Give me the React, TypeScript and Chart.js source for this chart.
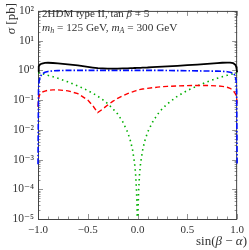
import React, { useEffect, useRef } from "react";
import { Chart, registerables } from "chart.js";

Chart.register(...registerables);

const xValues = [
  -1, -0.995, -0.99, -0.98, -0.96, -0.93, -0.9, -0.85, -0.8, -0.7,
  -0.6, -0.5, -0.45, -0.4, -0.35, -0.3, -0.25, -0.2, -0.15, -0.1,
  -0.07, -0.05, -0.03, -0.02, -0.01, -0.005,
  0,
  0.005, 0.01, 0.02, 0.03, 0.05, 0.07, 0.1,
  0.15, 0.2, 0.25, 0.3, 0.4, 0.5, 0.6, 0.7, 0.8,
  0.85, 0.9, 0.93, 0.96, 0.98, 0.99, 0.995, 1,
];

const totalSigma = [
  0.9, 1.13, 1.35, 1.57, 1.7, 1.79, 1.8, 1.77, 1.73, 1.6,
  1.47, 1.31, 1.24, 1.18, 1.16, 1.15, 1.15, 1.15, 1.16, 1.17,
  1.18, 1.19, 1.2, 1.2, 1.21, 1.21,
  1.21,
  1.21, 1.21, 1.22, 1.22, 1.23, 1.24, 1.25,
  1.28, 1.3, 1.33, 1.36, 1.42, 1.49, 1.57, 1.66, 1.75,
  1.8, 1.83, 1.82, 1.74, 1.56, 1.34, 1.1, 0.86,
];

const blueSigma = [
  0.0007, 0.2, 0.4, 0.6, 0.75, 0.86, 0.92, 0.96, 0.98, 1.0,
  1.0, 1.0, 1.0, 1.0, 1.0, 1.0, 1.0, 1.0, 1.0, 1.0,
  1.0, 1.0, 1.0, 1.0, 1.0, 1.0,
  1.0,
  1.0, 1.0, 1.0, 1.0, 1.0, 1.0, 1.0,
  1.0, 1.0, 1.0, 0.99, 0.98, 0.97, 0.96, 0.95, 0.94,
  0.93, 0.9, 0.87, 0.8, 0.66, 0.45, 0.2, 0.0007,
];

const redSigma = [
  0.06, 0.1, 0.13, 0.16, 0.185, 0.2, 0.215, 0.22, 0.22, 0.205,
  0.165, 0.1, 0.065, 0.038, 0.05, 0.068, 0.09, 0.115, 0.14, 0.165,
  0.18, 0.19, 0.2, 0.205, 0.21, 0.215,
  0.218,
  0.22, 0.222, 0.226, 0.23, 0.235, 0.24, 0.248,
  0.26, 0.272, 0.282, 0.29, 0.3, 0.307, 0.31, 0.31, 0.3,
  0.29, 0.27, 0.25, 0.21, 0.17, 0.14, 0.11, 0.07,
];

const greenSigma = [
  0.84, 0.83, 0.82, 0.81, 0.77, 0.73, 0.68, 0.61, 0.54, 0.41,
  0.3, 0.21, 0.17, 0.135, 0.103, 0.076, 0.052, 0.034, 0.019, 0.0084,
  0.0041, 0.0021, 0.00076, 0.00034, 0.000084, 0.000021,
  0.000002,
  0.00002, 0.00008, 0.00033, 0.00074, 0.002, 0.004, 0.0082,
  0.018, 0.033, 0.052, 0.075, 0.135, 0.21, 0.3, 0.41, 0.54,
  0.61, 0.68, 0.72, 0.76, 0.78, 0.78, 0.78, 0.78,
];

const xTickValues = [-1, -0.5, 0, 0.5, 1];
const xTickLabels = ["\u22121.0", "\u22120.5", "0.0", "0.5", "1.0"];
const yTickValues = [1e-5, 1e-4, 1e-3, 1e-2, 1e-1, 1e0, 1e1, 1e2];
const yTickLabels = ["10\u207B\u2075", "10\u207B\u2074", "10\u207B\u00B3", "10\u207B\u00B2", "10\u207B\u00B9", "10\u2070", "10\u00B9", "10\u00B2"];

const SERIF = '"Liberation Serif", "DejaVu Serif", serif';

type Seg = { t: string; italic?: boolean; sub?: boolean };

function segFont(s: Seg, size: number) {
  const sz = s.sub ? size * 0.7 : size;
  return `${s.italic ? "italic " : ""}${sz}px ${SERIF}`;
}

function richWidth(ctx: CanvasRenderingContext2D, segs: Seg[], size: number) {
  let w = 0;
  for (const s of segs) {
    ctx.font = segFont(s, size);
    w += ctx.measureText(s.t).width;
  }
  return w;
}

function drawRich(ctx: CanvasRenderingContext2D, x: number, y: number, segs: Seg[], size: number) {
  let cx = x;
  ctx.textAlign = "left";
  ctx.textBaseline = "alphabetic";
  for (const s of segs) {
    ctx.font = segFont(s, size);
    ctx.fillText(s.t, cx, s.sub ? y + size * 0.22 : y);
    cx += ctx.measureText(s.t).width;
  }
}

const framePlugin = {
  id: "framePlugin",
  beforeDatasetsDraw(chart: any) {
    const ctx: CanvasRenderingContext2D = chart.ctx;
    const { left, right, top, bottom } = chart.chartArea;
    const xs = chart.scales.x;
    const ys = chart.scales.y;
    ctx.save();
    ctx.strokeStyle = "#777";
    ctx.lineWidth = 0.8;
    ctx.beginPath();
    for (let d = -5; d <= 2; d++) {
      for (let k = 1; k <= 9; k++) {
        const v = k * Math.pow(10, d);
        if (v > 100.0001) continue;
        const py = Math.round(ys.getPixelForValue(v)) + 0.5;
        const len = k === 1 ? 5 : 2.5;
        ctx.moveTo(left, py);
        ctx.lineTo(left + len, py);
        ctx.moveTo(right, py);
        ctx.lineTo(right - len, py);
      }
    }
    for (let i = -10; i <= 10; i++) {
      const v = i / 10;
      const px = Math.round(xs.getPixelForValue(v)) + 0.5;
      const len = i % 5 === 0 ? 5 : 2.5;
      ctx.moveTo(px, bottom);
      ctx.lineTo(px, bottom - len);
      ctx.moveTo(px, top);
      ctx.lineTo(px, top + len);
    }
    ctx.stroke();
    ctx.strokeStyle = "#444";
    ctx.lineWidth = 1;
    ctx.strokeRect(left + 0.5, top + 0.5, right - left - 1, bottom - top);

    ctx.fillStyle = "#333";
    drawRich(ctx, left + 4, 17, [
      { t: "2HDM type II, tan " },
      { t: "\u03B2", italic: true },
      { t: " = 5" },
    ], 11);
    drawRich(ctx, left + 4, 31, [
      { t: "m", italic: true },
      { t: "h", italic: true, sub: true },
      { t: " = 125 GeV, " },
      { t: "m", italic: true },
      { t: "A", italic: true, sub: true },
      { t: " = 300 GeV" },
    ], 11.3);

    const xt: Seg[] = [
      { t: "sin(" },
      { t: "\u03B2", italic: true },
      { t: " \u2212 " },
      { t: "\u03B1", italic: true },
      { t: ")" },
    ];
    const xw = richWidth(ctx, xt, 13);
    drawRich(ctx, 247 - xw, 245, xt, 13);

    const yt: Seg[] = [
      { t: "\u03C3", italic: true },
      { t: " [pb]" },
    ];
    const yw = richWidth(ctx, yt, 13);
    ctx.translate(15, 3 + yw);
    ctx.rotate(-Math.PI / 2);
    drawRich(ctx, 0, 0, yt, 13);
    ctx.restore();
  },
};

function pts(ys: number[]) {
  return xValues.map((x, i) => ({ x, y: ys[i] }));
}

export default function App() {
  const ref = useRef<HTMLCanvasElement | null>(null);
  useEffect(() => {
    if (!ref.current) return;
    const chart = new Chart(ref.current, {
      type: "line",
      data: {
        datasets: [
          { label: "total", data: pts(totalSigma), borderColor: "#000", borderWidth: 1.8, pointRadius: 0, clip: 3 as any },
          { label: "blue", data: pts(blueSigma), borderColor: "#0010ff", borderWidth: 1.6, borderDash: [6, 2, 1.5, 2], pointRadius: 0, clip: 3 as any },
          { label: "red", data: pts(redSigma), borderColor: "#ff0000", borderWidth: 1.4, borderDash: [5, 3], pointRadius: 0, clip: 3 as any },
          { label: "green", data: pts(greenSigma), borderColor: "#00b000", borderWidth: 1.6, borderDash: [1.5, 3.5], pointRadius: 0, clip: 0 as any },
        ],
      },
      options: {
        animation: false,
        responsive: false,
        devicePixelRatio: 1,
        layout: { padding: { top: 5, right: 11, left: 0, bottom: 0 } },
        plugins: { legend: { display: false }, tooltip: { enabled: false } },
        scales: {
          x: {
            type: "linear",
            min: -1,
            max: 1,
            grid: { display: false, drawTicks: false },
            border: { display: false },
            afterBuildTicks: (s: any) => {
              s.ticks = xTickValues.map((v) => ({ value: v }));
            },
            afterFit: (s: any) => {
              s.height = 31;
            },
            ticks: {
              padding: 5,
              color: "#333",
              font: { family: SERIF, size: 11 },
              maxRotation: 0,
              autoSkip: false,
              callback: (v: any) => {
                const i = xTickValues.findIndex((t) => Math.abs(t - Number(v)) < 1e-9);
                return i >= 0 ? xTickLabels[i] : "";
              },
            },
          },
          y: {
            type: "logarithmic",
            min: 1e-5,
            max: 1e2,
            grid: { display: false, drawTicks: false },
            border: { display: false },
            afterBuildTicks: (s: any) => {
              s.ticks = yTickValues.map((v) => ({ value: v }));
            },
            afterFit: (s: any) => {
              s.width = 38;
            },
            ticks: {
              padding: 4,
              color: "#333",
              font: { family: SERIF, size: 11.5 },
              autoSkip: false,
              callback: (v: any) => {
                const i = yTickValues.findIndex((t) => Math.abs(Math.log10(t) - Math.log10(Number(v))) < 1e-6);
                return i >= 0 ? yTickLabels[i] : "";
              },
            },
          },
        },
      },
      plugins: [framePlugin],
    });
    return () => chart.destroy();
  }, []);
  return (
    <div style={{ position: "absolute", left: 0, top: 0, width: 249, height: 250, background: "#fff" }}>
      <canvas ref={ref} width={249} height={250} style={{ width: 249, height: 250 }} />
    </div>
  );
}
